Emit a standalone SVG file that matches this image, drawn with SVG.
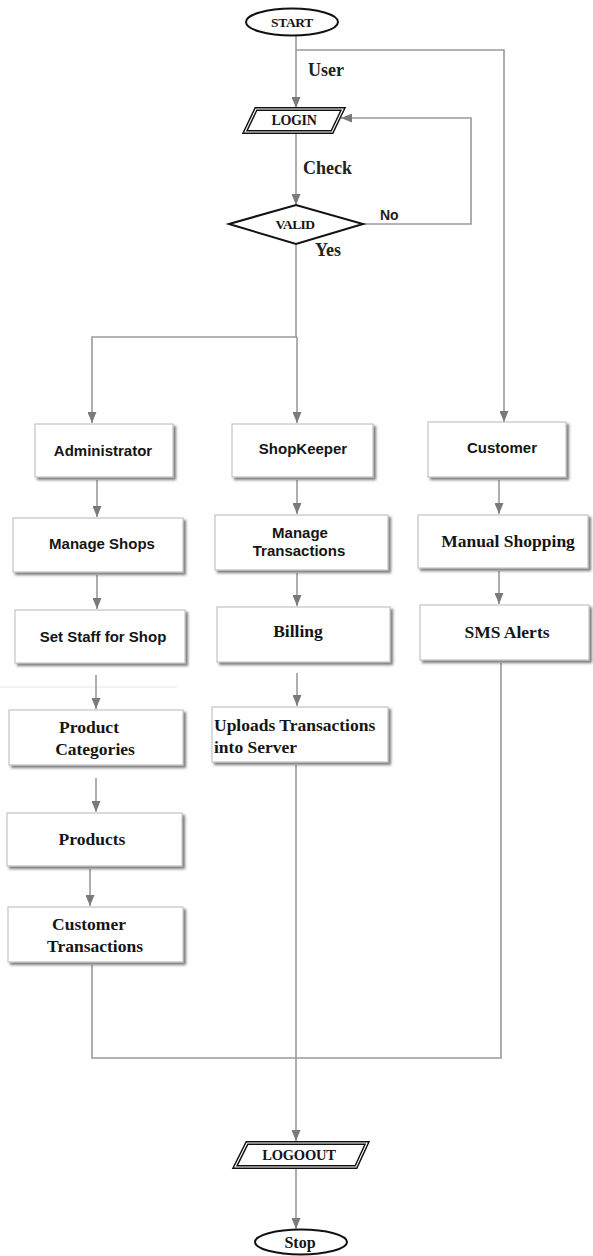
<svg xmlns="http://www.w3.org/2000/svg" width="593" height="1256" viewBox="0 0 593 1256">
<defs>
<marker id="ah" markerWidth="11" markerHeight="9" refX="11" refY="4.5" orient="auto" markerUnits="userSpaceOnUse">
<path d="M0,0 L11,4.5 L0,9 z" fill="#7a7a7a"/>
</marker>
<filter id="sh" x="-10%" y="-10%" width="125%" height="135%">
<feDropShadow dx="2.5" dy="2.5" stdDeviation="1" flood-color="#555" flood-opacity="0.75"/>
</filter>
<style>
.box{fill:#fff;stroke:#c4c4c4;stroke-width:1.2;filter:url(#sh)}
.sans{font-family:"Liberation Sans",Arial,sans-serif;font-weight:bold;font-size:15px;fill:#151515;text-anchor:middle}
.serif{font-family:"Liberation Serif","Times New Roman",serif;font-weight:bold;font-size:17.5px;fill:#151515;text-anchor:middle}
.lbl{font-family:"Liberation Serif","Times New Roman",serif;font-weight:bold;font-size:18px;fill:#222}
.term{fill:#fff;stroke:#111;stroke-width:2}
.io1{fill:#fff;stroke:#111;stroke-width:4;stroke-linejoin:miter}
.io2{fill:none;stroke:#fff;stroke-width:1.1}
.con{fill:none;stroke:#9a9a9a;stroke-width:1.6}
.arr{marker-end:url(#ah)}
</style>
</defs>
<rect width="593" height="1256" fill="#fff"/>
<line x1="0" y1="687" x2="177" y2="687" stroke="#e6e6e6" stroke-width="1"/>

<g id="connectors">
<path class="con arr" d="M296,36 V108"/>
<path class="con arr" d="M296,50 H504 V422"/>
<path class="con arr" d="M296,133 V205"/>
<path class="con arr" d="M363,224 H471 V118 H341"/>
<path class="con" d="M296,245 V337"/>
<path class="con arr" d="M297,337 H92 V423"/>
<path class="con arr" d="M297,337 V423"/>
<path class="con arr" d="M97,480 V517"/>
<path class="con arr" d="M97,575 V609"/>
<path class="con arr" d="M96,675 V709"/>
<path class="con arr" d="M96,778 V812"/>
<path class="con arr" d="M90,869 V906"/>
<path class="con arr" d="M297,480 V514"/>
<path class="con arr" d="M297,573 V606"/>
<path class="con arr" d="M297,673 V706"/>
<path class="con arr" d="M499,480 V514"/>
<path class="con arr" d="M499,571 V604"/>
<path class="con" d="M92,965 V1058 H296"/>
<path class="con" d="M501,663 V1058 H296"/>
<path class="con arr" d="M296,765 V1141"/>
<path class="con arr" d="M296,1168 V1229"/>
</g>

<g id="start">
<ellipse class="term" cx="292" cy="22" rx="46" ry="13.5"/>
<text class="serif" x="292" y="27" style="font-size:13.5px" letter-spacing="-0.3">START</text>
</g>
<g id="label-user"><text class="lbl" x="308" y="76">User</text></g>

<g id="login">
<polygon class="io1" points="256,109 343,109 332,132 245,132"/>
<polygon class="io2" points="256,109 343,109 332,132 245,132"/>
<text class="serif" x="294" y="125" style="font-size:14px" letter-spacing="-0.3">LOGIN</text>
</g>
<g id="label-check"><text class="lbl" x="303" y="174">Check</text></g>

<g id="valid">
<polygon fill="#fff" stroke="#111" stroke-width="2" points="229,224 296,205 363,224 296,244"/>
<text class="serif" x="295" y="229" style="font-size:13.5px" letter-spacing="-0.6">VALID</text>
</g>
<g id="label-no"><text x="380" y="220" style="font-family:'Liberation Sans',Arial,sans-serif;font-weight:bold;font-size:14px;fill:#222">No</text></g>
<g id="label-yes"><text class="lbl" x="315" y="256">Yes</text></g>

<g id="administrator">
<rect class="box" x="35" y="424" width="138" height="53"/>
<text class="sans" x="103" y="456">Administrator</text>
</g>
<g id="manage-shops">
<rect class="box" x="13" y="518" width="170" height="54"/>
<text class="sans" x="102" y="549">Manage Shops</text>
</g>
<g id="set-staff">
<rect class="box" x="15" y="610" width="170" height="53"/>
<text class="sans" x="103" y="642">Set Staff for Shop</text>
</g>
<g id="product-categories">
<rect class="box" x="9" y="710" width="174" height="55"/>
<text class="serif" x="89" y="733">Product</text>
<text class="serif" x="95" y="755">Categories</text>
</g>
<g id="products">
<rect class="box" x="7" y="813" width="175" height="53"/>
<text class="serif" x="92" y="845">Products</text>
</g>
<g id="customer-transactions">
<rect class="box" x="8" y="907" width="175" height="55"/>
<text class="serif" x="89" y="930">Customer</text>
<text class="serif" x="95" y="952">Transactions</text>
</g>

<g id="shopkeeper">
<rect class="box" x="232" y="424" width="141" height="53"/>
<text class="sans" x="303" y="454">ShopKeeper</text>
</g>
<g id="manage-transactions">
<rect class="box" x="215" y="515" width="173" height="55"/>
<text class="sans" x="300" y="538">Manage</text>
<text class="sans" x="299" y="556">Transactions</text>
</g>
<g id="billing">
<rect class="box" x="217" y="607" width="173" height="55"/>
<text class="serif" x="298" y="637">Billing</text>
</g>
<g id="uploads">
<rect class="box" x="212" y="707" width="176" height="55"/>
<text class="serif" x="214" y="731" text-anchor="start" style="text-anchor:start">Uploads Transactions</text>
<text class="serif" x="214" y="753" style="text-anchor:start">into Server</text>
</g>

<g id="customer">
<rect class="box" x="428" y="422" width="138" height="55"/>
<text class="sans" x="502" y="453">Customer</text>
</g>
<g id="manual-shopping">
<rect class="box" x="418" y="515" width="170" height="53"/>
<text class="serif" x="508" y="547">Manual Shopping</text>
</g>
<g id="sms-alerts">
<rect class="box" x="420" y="605" width="169" height="55"/>
<text class="serif" x="507" y="638">SMS Alerts</text>
</g>

<g id="logoout">
<polygon class="io1" points="247,1143 367,1143 356,1167 235,1167"/>
<polygon class="io2" points="247,1143 367,1143 356,1167 235,1167"/>
<text class="serif" x="299" y="1160" style="font-size:14.5px" letter-spacing="-0.2">LOGOOUT</text>
</g>
<g id="stop">
<ellipse class="term" cx="301" cy="1242" rx="46" ry="12.5"/>
<text class="serif" x="300" y="1248" style="font-size:16px">Stop</text>
</g>
</svg>
